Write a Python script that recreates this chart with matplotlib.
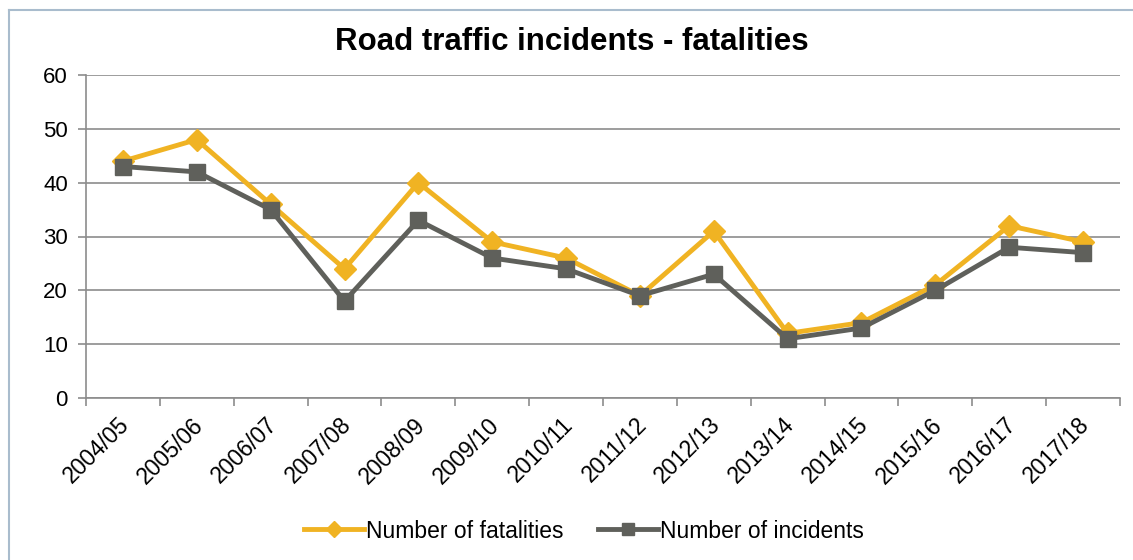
import matplotlib.pyplot as plt
from matplotlib.lines import Line2D
import matplotlib.transforms as mtransforms
import numpy as np

plt.rcParams['font.family'] = ['Liberation Sans', 'DejaVu Sans']

# Data
years = ["2004/05", "2005/06", "2006/07", "2007/08", "2008/09", "2009/10", "2010/11",
         "2011/12", "2012/13", "2013/14", "2014/15", "2015/16", "2016/17", "2017/18"]
fatalities = [44, 48, 36, 24, 40, 29, 26, 19, 31, 12, 14, 21, 32, 29]
incidents = [43, 42, 35, 18, 33, 26, 24, 19, 23, 11, 13, 20, 28, 27]

yellow = '#F0B323'
grey = '#5F605B'
grid_col = '#8C8C8C'

fig = plt.figure(figsize=(11.33, 5.6), dpi=100)
ax = fig.add_axes([86 / 1133, 1 - 398 / 560, (1120 - 86) / 1133, (398 - 75) / 560])

x = np.arange(len(years))
ax.plot(x, fatalities, color=yellow, lw=3.5, marker='D', ms=11,
        label='Number of fatalities', zorder=3)
ax.plot(x, incidents, color=grey, lw=3.5, marker='s', ms=11.5,
        label='Number of incidents', zorder=4)

ax.set_xlim(-0.5, len(years) - 0.5)
ax.set_ylim(0, 60)
ax.set_yticks(range(0, 61, 10))
ax.yaxis.grid(True, color=grid_col, lw=1.2)
ax.set_axisbelow(True)

# ticks at category boundaries, labels centred on categories
ax.set_xticks(np.arange(-0.5, len(years), 1))
ax.set_xticklabels([])
ax.set_xticks(x, minor=True)
ax.set_xticklabels(years, minor=True, rotation=45, ha='right', va='top',
                   rotation_mode='anchor', fontsize=16.5)
ax.tick_params(axis='x', which='minor', length=0, pad=11)
ax.tick_params(axis='x', which='major', length=6, color=grid_col, width=1.2)
ax.tick_params(axis='y', length=6, color=grid_col, width=1.2, labelsize=16, pad=7)

# nudge the rotated labels a little to the left
shift = mtransforms.ScaledTranslation(-5 / 100, 0, fig.dpi_scale_trans)
for lbl in ax.get_xticklabels(minor=True):
    lbl.set_transform(lbl.get_transform() + shift)

for s in ['top', 'right']:
    ax.spines[s].set_visible(False)
for s in ['left', 'bottom']:
    ax.spines[s].set_color(grid_col)
    ax.spines[s].set_linewidth(1.2)

fig.text(572 / 1133, 1 - 42 / 560, 'Road traffic incidents - fatalities',
         ha='center', va='center', fontsize=22.5, fontweight='bold')

fig.legend(loc='center', bbox_to_anchor=(584 / 1133, 1 - 531 / 560), ncol=2,
           frameon=False, fontsize=16.5, handlelength=2.6, handletextpad=0.1,
           columnspacing=1.5, markerscale=0.75)

# chart border (left and top edges visible)
fig.add_artist(Line2D([9 / 1133, 9 / 1133], [0, 1 - 10 / 560], color='#A9BCCD', lw=1.5))
fig.add_artist(Line2D([9 / 1133, 1], [1 - 10 / 560, 1 - 10 / 560], color='#A9BCCD', lw=1.5))

fig.savefig('out.png', dpi=100)
